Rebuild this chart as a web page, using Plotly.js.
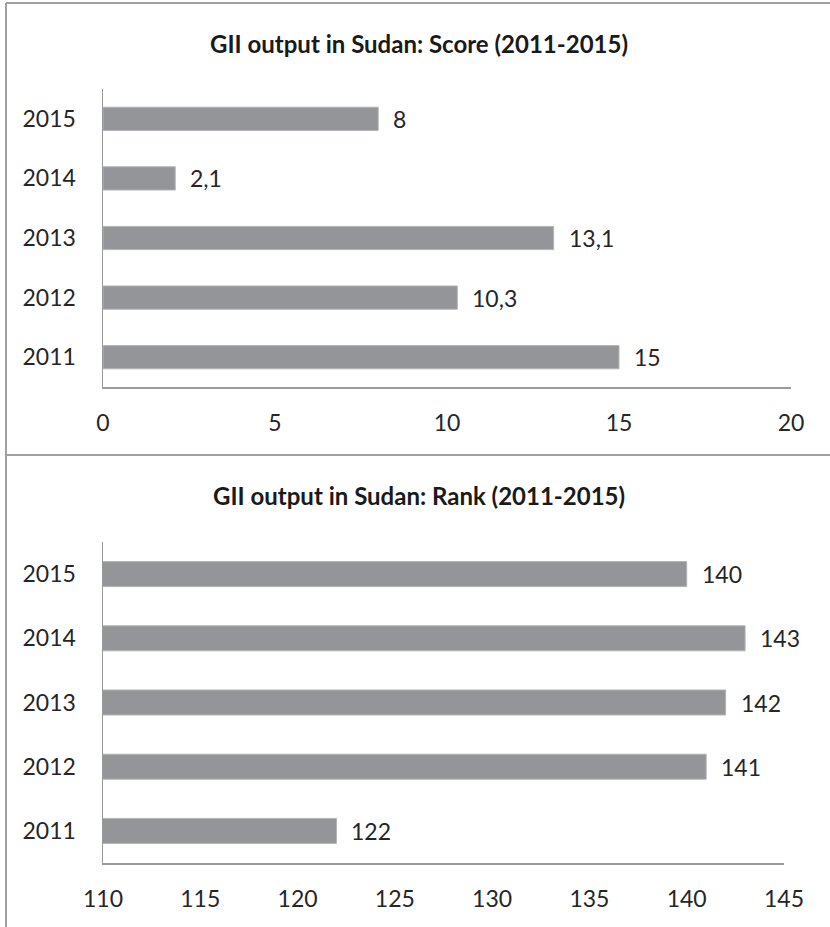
<!DOCTYPE html>
<html>
<head>
<meta charset="utf-8">
<script src="https://cdn.plot.ly/plotly-3.0.1.min.js"></script>
<style>html,body{margin:0;padding:0;background:#fff;}#chart{width:830px;height:927px;}</style>
</head>
<body>
<div id="chart"></div>
<script>
// Data
var years = ['2011', '2012', '2013', '2014', '2015'];
var scoreValues = [15, 10.3, 13.1, 2.1, 8];
var rankValues = [122, 141, 142, 143, 140];
var scoreTicks = [0, 5, 10, 15, 20];
var rankTicks = [110, 115, 120, 125, 130, 135, 140, 145];
var scoreTitle = 'GII output in Sudan: Score (2011-2015)';
var rankTitle = 'GII output in Sudan: Rank (2011-2015)';

function fmt(v) { return String(v).replace('.', ','); }

var FONT = 'Lato, "Open Sans", sans-serif';
var TXT = '#262626';
var BAR = '#939598';
var AX = '#9a9a9a';

var traces = [
  {type: 'bar', orientation: 'h', y: years, x: scoreValues, xaxis: 'x', yaxis: 'y',
   width: 0.39, marker: {color: BAR, line: {color: '#b3b4b6', width: 1}}, hoverinfo: 'none'},
  {type: 'bar', orientation: 'h', y: years, x: rankValues, xaxis: 'x2', yaxis: 'y2',
   base: 0, width: 0.39, marker: {color: BAR, line: {color: '#b3b4b6', width: 1}}, hoverinfo: 'none'}
];

var ann = [];
scoreValues.forEach(function (v, i) {
  ann.push({x: v, y: years.indexOf(years[i]), xref: 'x', yref: 'y', text: fmt(v), showarrow: false,
    xanchor: 'left', yanchor: 'middle', xshift: 13, font: {family: FONT, size: 23, color: TXT}});
});
rankValues.forEach(function (v, i) {
  ann.push({x: v, y: years.indexOf(years[i]), xref: 'x2', yref: 'y2', text: fmt(v), showarrow: false,
    xanchor: 'left', yanchor: 'middle', xshift: 13, font: {family: FONT, size: 23, color: TXT}});
});
ann.push({x: 0.505, y: 1 - 44 / 927, xref: 'paper', yref: 'paper', text: '<b>' + scoreTitle + '</b>',
  showarrow: false, xanchor: 'center', yanchor: 'middle', font: {family: FONT, size: 24, color: '#1a1a1a'}});
ann.push({x: 0.505, y: 1 - 495 / 927, xref: 'paper', yref: 'paper', text: '<b>' + rankTitle + '</b>',
  showarrow: false, xanchor: 'center', yanchor: 'middle', font: {family: FONT, size: 24, color: '#1a1a1a'}});

function xax(domain, range, ticks, anchor) {
  return {domain: domain, range: range, tickvals: ticks, ticktext: ticks.map(String), anchor: anchor,
    showgrid: false, zeroline: false, showline: true, linecolor: AX, linewidth: 1.5,
    ticks: 'outside', ticklen: 15, tickcolor: 'rgba(0,0,0,0)', fixedrange: true,
    tickfont: {family: FONT, size: 23, color: TXT}};
}
function yax(domain, anchor) {
  return {domain: domain, type: 'category', categoryorder: 'array', categoryarray: years, anchor: anchor,
    range: [-0.5, 4.5], showgrid: false, zeroline: false, showline: true, linecolor: AX, linewidth: 1.5,
    ticks: 'outside', ticklen: 21, tickcolor: 'rgba(0,0,0,0)', fixedrange: true,
    tickfont: {family: FONT, size: 23, color: TXT}};
}

var layout = {
  width: 830, height: 927,
  margin: {l: 0, r: 0, t: 0, b: 0},
  paper_bgcolor: '#fff', plot_bgcolor: '#fff',
  showlegend: false,
  bargap: 0.6,
  xaxis: xax([103 / 830, 791 / 830], [0, 20], scoreTicks, 'y'),
  yaxis: yax([1 - 387 / 927, 1 - 89 / 927], 'x'),
  xaxis2: xax([103 / 830, 784 / 830], [110, 145], rankTicks, 'y2'),
  yaxis2: yax([1 - 863 / 927, 1 - 542 / 927], 'x2'),
  annotations: ann,
  shapes: [
    {type: 'line', xref: 'paper', yref: 'paper', x0: 6 / 830, x1: 6 / 830, y0: 0, y1: 1 - 3 / 927, line: {color: '#a0a0a0', width: 2}},
    {type: 'line', xref: 'paper', yref: 'paper', x0: 6 / 830, x1: 1, y0: 1 - 3 / 927, y1: 1 - 3 / 927, line: {color: '#a0a0a0', width: 2}},
    {type: 'line', xref: 'paper', yref: 'paper', x0: 6 / 830, x1: 1, y0: 1 - 455 / 927, y1: 1 - 455 / 927, line: {color: '#a0a0a0', width: 2}}
  ]
};

Plotly.newPlot('chart', traces, layout, {displayModeBar: false, staticPlot: true});
</script>
</body>
</html>
